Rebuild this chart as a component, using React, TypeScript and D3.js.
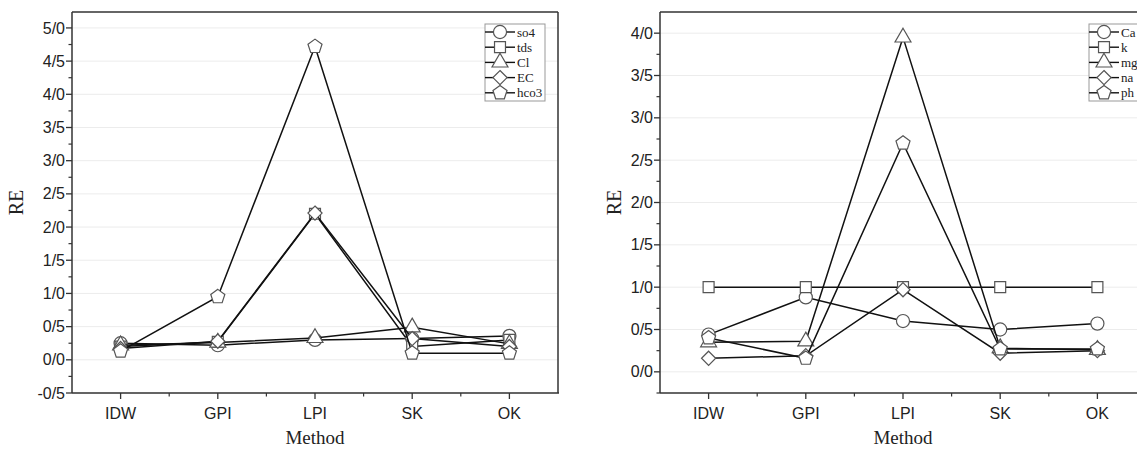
import { scaleLinear, symbol, symbolCircle, symbolSquare, symbolTriangle, line, format, range } from 'd3';

const categories = ['IDW', 'GPI', 'LPI', 'SK', 'OK'];

// left panel
const so4 = [0.25, 0.22, 0.3, 0.32, 0.36];
const tds = [0.2, 0.27, 2.2, 0.2, 0.3];
const cl = [0.22, 0.26, 0.33, 0.49, 0.24];
const ec = [0.17, 0.28, 2.21, 0.32, 0.2];
const hco3 = [0.13, 0.95, 4.72, 0.1, 0.1];
const leftNames = ['so4', 'tds', 'Cl', 'EC', 'hco3'];
const leftTicks = [-0.5, 0, 0.5, 1, 1.5, 2, 2.5, 3, 3.5, 4, 4.5, 5];

// right panel
const ca = [0.44, 0.88, 0.6, 0.5, 0.57];
const k = [1, 1, 1, 1, 1];
const mg = [0.35, 0.36, 3.95, 0.28, 0.26];
const na = [0.16, 0.19, 0.97, 0.22, 0.25];
const ph = [0.4, 0.16, 2.7, 0.27, 0.27];
const rightNames = ['Ca', 'k', 'mg', 'na', 'ph'];
const rightTicks = [0, 0.5, 1, 1.5, 2, 2.5, 3, 3.5, 4];

const polygon = (n: number, rot: number, k: number) => ({
  draw(ctx: any, size: number) {
    const r = Math.sqrt(size / k);
    for (let i = 0; i < n; i++) {
      const a = rot + (i * 2 * Math.PI) / n;
      const px = r * Math.cos(a);
      const py = r * Math.sin(a);
      if (i === 0) ctx.moveTo(px, py);
      else ctx.lineTo(px, py);
    }
    ctx.closePath();
  },
});

const shapes = [
  symbol(symbolCircle, 135)(),
  symbol(symbolSquare, 120)(),
  symbol(symbolTriangle, 110)(),
  symbol(polygon(4, -Math.PI / 2, 2) as any, 100)(),
  symbol(polygon(5, -Math.PI / 2, 2.38) as any, 130)(),
];

const fmt = (v: number) => format('.1f')(v).replace('.', '/').replace('−', '-');

const sans = '"Liberation Sans", Arial, sans-serif';
const serif = '"Liberation Serif", "Times New Roman", serif';

type PanelProps = {
  x0: number;
  x1: number;
  y0: number;
  y1: number;
  yDomain: [number, number];
  ticks: number[];
  series: number[][];
  names: string[];
  legendX: number;
  labelX: number;
};

const Panel = ({ x0, x1, y0, y1, yDomain, ticks, series, names, legendX, labelX }: PanelProps) => {
  const x = scaleLinear().domain([0.5, categories.length + 0.5]).range([x0, x1]);
  const y = scaleLinear().domain(yDomain).range([y1, y0]);
  const path = line<number>()
    .x((_, i) => x(i + 1))
    .y((d) => y(d));
  const minorY = range(yDomain[0], yDomain[1], 0.25).filter((v) => !ticks.includes(v));
  const minorX = range(1.5, categories.length + 0.5, 1);

  return (
    <g>
      {ticks.map((t) => (
        <line key={'g' + t} x1={x0} x2={x1} y1={y(t)} y2={y(t)} stroke="#ececec" strokeWidth={1} />
      ))}
      {/* frame */}
      <line x1={x0} x2={x1} y1={y0} y2={y0} stroke="#333" strokeWidth={1.5} />
      <line x1={x1} x2={x1} y1={y0} y2={y1} stroke="#333" strokeWidth={1.5} />
      <line x1={x0} x2={x0} y1={y0} y2={y1} stroke="#333" strokeWidth={1.5} />
      <line x1={x0} x2={x1 + 1} y1={y1} y2={y1} stroke="#333" strokeWidth={1.5} />

      {ticks.map((t) => (
        <g key={'t' + t}>
          <line x1={x0 - 6} x2={x0} y1={y(t)} y2={y(t)} stroke="#333" strokeWidth={1.3} />
          <text x={x0 - 7} y={y(t)} dy="0.35em" textAnchor="end" fontFamily={sans} fontSize={16} fill="#222">
            {fmt(t)}
          </text>
        </g>
      ))}
      {minorY.map((t) => (
        <line key={'m' + t} x1={x0 - 3.5} x2={x0} y1={y(t)} y2={y(t)} stroke="#333" strokeWidth={1.2} />
      ))}
      {categories.map((c, i) => (
        <g key={c}>
          <line x1={x(i + 1)} x2={x(i + 1)} y1={y1} y2={y1 + 6} stroke="#333" strokeWidth={1.3} />
          <text x={x(i + 1)} y={419} textAnchor="middle" fontFamily={sans} fontSize={16} fill="#222">
            {c}
          </text>
        </g>
      ))}
      {minorX.map((v) => (
        <line key={'mx' + v} x1={x(v)} x2={x(v)} y1={y1} y2={y1 + 3.5} stroke="#333" strokeWidth={1.2} />
      ))}

      <text
        transform={`translate(${labelX},${(y0 + y1) / 2}) rotate(-90)`}
        textAnchor="middle"
        fontFamily={serif}
        fontSize={20}
        fill="#222"
      >
        RE
      </text>
      <text x={x(3)} y={444} textAnchor="middle" fontFamily={serif} fontSize={19} fill="#222">
        Method
      </text>

      {series.map((s, si) => (
        <g key={'s' + si}>
          <path d={path(s) || ''} fill="none" stroke="#111" strokeWidth={1.5} />
          {s.map((v, i) => (
            <path
              key={i}
              d={shapes[si] || ''}
              transform={`translate(${x(i + 1)},${y(v)})`}
              fill="#fff"
              stroke="#555"
              strokeWidth={1.2}
            />
          ))}
        </g>
      ))}

      <rect x={legendX} y={24} width={60} height={77} fill="#fff" stroke="#999" strokeWidth={1} />
      {names.map((n, i) => {
        const ly = 32 + i * 15.2;
        return (
          <g key={n}>
            <line x1={legendX} x2={legendX + 30} y1={ly} y2={ly} stroke="#111" strokeWidth={1.4} />
            <path
              d={shapes[i] || ''}
              transform={`translate(${legendX + 15},${ly})`}
              fill="#fff"
              stroke="#555"
              strokeWidth={1.2}
            />
            <text x={legendX + 32} y={ly} dy="0.35em" fontFamily={serif} fontSize={13} fill="#222">
              {n}
            </text>
          </g>
        );
      })}
    </g>
  );
};

const App = () => {
  return (
    <svg
      width={1137}
      height={450}
      style={{ position: 'absolute', left: 0, top: 0, background: '#fff' }}
    >
      <Panel
        x0={72}
        x1={558}
        y0={12}
        y1={393}
        yDomain={[-0.5, 5.24]}
        ticks={leftTicks}
        series={[so4, tds, cl, ec, hco3]}
        names={leftNames}
        legendX={485}
        labelX={23}
      />
      <Panel
        x0={660}
        x1={1146}
        y0={12}
        y1={393}
        yDomain={[-0.25, 4.25]}
        ticks={rightTicks}
        series={[ca, k, mg, na, ph]}
        names={rightNames}
        legendX={1089}
        labelX={621}
      />
    </svg>
  );
};

export default App;
